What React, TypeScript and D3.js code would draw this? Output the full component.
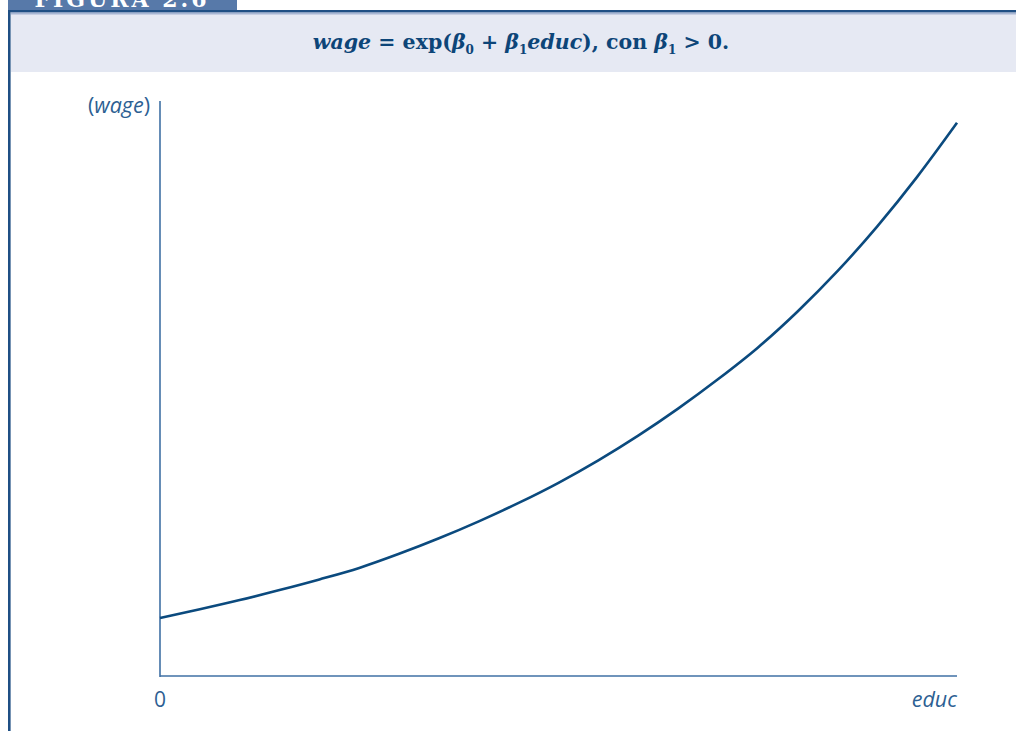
import React from "react";
import * as d3 from "d3";

// Years of education and the corresponding wage level along the curve
const educValues = [0, 1, 2, 3, 4, 5, 6, 7, 8, 9, 10, 11, 12, 13, 14, 15, 16, 17, 18, 19, 20];
const wageValues = [10.1, 11.6, 13.2, 14.95, 16.8, 18.8, 21.25, 23.95, 26.9, 30.1, 33.6, 37.5, 41.8, 46.5, 51.6, 57.1, 63.4, 70.4, 78.2, 86.8, 96.2];

const xDomain = [0, 20];
const yDomain = [0, 100];

const W = 1016;
const H = 731;

const DARK = "#0b4a7e";
const AXIS = "#3f70a4";
const LABEL = "#2d5f93";

export default function App() {
  const x = d3.scaleLinear().domain(xDomain).range([160, 957]);
  const y = d3.scaleLinear().domain(yDomain).range([676, 101]);

  const data = educValues.map((e, i) => ({ e, w: wageValues[i] }));
  const line = d3
    .line<{ e: number; w: number }>()
    .x((d) => x(d.e))
    .y((d) => y(d.w))
    .curve(d3.curveMonotoneX);

  const x0 = x(xDomain[0]);
  const x1 = x(xDomain[1]);
  const y0 = y(yDomain[0]);
  const y1 = y(yDomain[1]);

  return (
    <svg
      width={W}
      height={H}
      style={{ position: "absolute", left: 0, top: 0, display: "block" }}
      xmlns="http://www.w3.org/2000/svg"
    >
      <rect x={0} y={0} width={W} height={H} fill="#ffffff" />

      {/* figure tab */}
      <rect x={8} y={0} width={229} height={10} fill="#5779a9" />
      <text
        x={122}
        y={7}
        textAnchor="middle"
        fill="#ffffff"
        fontFamily="'DejaVu Serif', serif"
        fontWeight="bold"
        fontSize={22}
        letterSpacing={3}
      >
        FIGURA 2.6
      </text>

      {/* title band */}
      <rect x={11} y={14} width={W - 11} height={58} fill="#e6e9f3" />
      <rect x={11} y={12} width={W - 11} height={2.5} fill="#a7b6d3" />
      <rect x={8} y={10} width={W - 8} height={2.2} fill="#1f4f84" />
      <rect x={8} y={10} width={2.6} height={H - 10} fill="#1f4f84" />

      <text
        x={521}
        y={49}
        textAnchor="middle"
        fill="#0d4578"
        fontFamily="'DejaVu Serif', serif"
        fontWeight="bold"
        fontSize={20.5}
      >
        <tspan fontStyle="italic">wage</tspan>
        <tspan> = exp(</tspan>
        <tspan fontStyle="italic">β</tspan>
        <tspan fontSize={12} dy={5}>0</tspan>
        <tspan dy={-5}> + </tspan>
        <tspan fontStyle="italic">β</tspan>
        <tspan fontSize={12} dy={5}>1</tspan>
        <tspan dy={-5} fontStyle="italic">educ</tspan>
        <tspan>), con </tspan>
        <tspan fontStyle="italic">β</tspan>
        <tspan fontSize={12} dy={5}>1</tspan>
        <tspan dy={-5}> &gt; 0.</tspan>
      </text>

      {/* axes */}
      <line x1={x0} y1={y1} x2={x0} y2={y0 + 1} stroke={AXIS} strokeWidth={1.6} />
      <line x1={x0} y1={y0} x2={x1} y2={y0} stroke={AXIS} strokeWidth={1.6} />

      {/* curve */}
      <path d={line(data) ?? ""} fill="none" stroke={DARK} strokeWidth={2.6} strokeLinejoin="round" />

      {/* labels */}
      <text
        x={150}
        y={113}
        textAnchor="end"
        fill={LABEL}
        fontFamily="'Open Sans', sans-serif"
        fontSize={21.5}
      >
        (<tspan fontStyle="italic">wage</tspan>)
      </text>
      <text
        x={x0}
        y={707}
        textAnchor="middle"
        fill={LABEL}
        fontFamily="'Open Sans', sans-serif"
        fontSize={21}
      >
        0
      </text>
      <text
        x={x1}
        y={707}
        textAnchor="end"
        fill={LABEL}
        fontFamily="'Open Sans', sans-serif"
        fontStyle="italic"
        fontSize={21.5}
      >
        educ
      </text>
    </svg>
  );
}
